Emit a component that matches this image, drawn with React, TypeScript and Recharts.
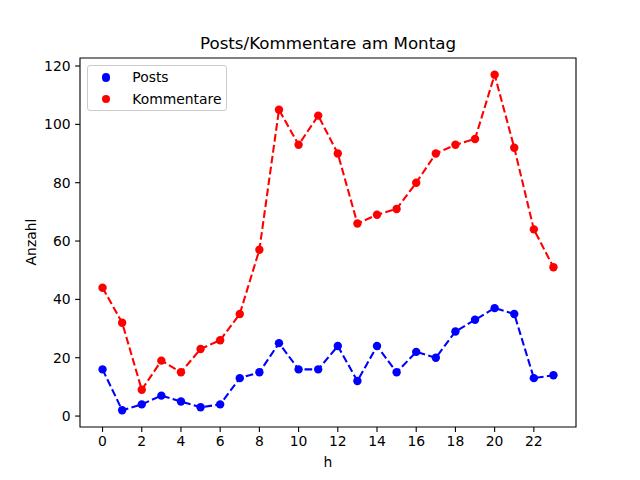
import { LineChart, Line, XAxis, YAxis, ReferenceArea, Legend } from 'recharts';

const HOURS = [0, 1, 2, 3, 4, 5, 6, 7, 8, 9, 10, 11, 12, 13, 14, 15, 16, 17, 18, 19, 20, 21, 22, 23];
const POSTS = [16, 2, 4, 7, 5, 3, 4, 13, 15, 25, 16, 16, 24, 12, 24, 15, 22, 20, 29, 33, 37, 35, 13, 14];
const KOMMENTARE = [44, 32, 9, 19, 15, 23, 26, 35, 57, 105, 93, 103, 90, 66, 69, 71, 80, 90, 93, 95, 117, 92, 64, 51];
const X_TICKS = [0, 2, 4, 6, 8, 10, 12, 14, 16, 18, 20, 22];
const Y_TICKS = [0, 20, 40, 60, 80, 100, 120];

const FONT = 'DejaVu Sans, sans-serif';
const BLUE = '#0000ff';
const RED = '#ff0000';
const X_DOMAIN: [number, number] = [-1.15, 24.15];
const Y_DOMAIN: [number, number] = [-3.75, 122.75];

const data = HOURS.map((h, i) => ({ h, posts: POSTS[i], kommentare: KOMMENTARE[i] }));

const tickStyle = { fill: '#000', fontSize: 13.9, fontFamily: FONT };
const DASH = '7.7 3.3';

function LegendBox() {
  const rows = [
    { name: 'Posts', color: BLUE },
    { name: 'Kommentare', color: RED },
  ];
  return (
    <div
      style={{
        boxSizing: 'border-box',
        background: 'rgba(255,255,255,0.8)',
        border: '1px solid #cccccc',
        borderRadius: 3,
        padding: '0.5px 0 0 13.5px',
        fontFamily: FONT,
        fontSize: 13.9,
        width: 140,
        height: 45.5,
      }}
    >
      {rows.map((r) => (
        <div key={r.name} style={{ display: 'flex', alignItems: 'center', height: 21.7 }}>
          <span
            style={{
              flexShrink: 0,
              width: 8.6,
              height: 8.6,
              borderRadius: '50%',
              background: r.color,
              display: 'inline-block',
              marginRight: 22.2,
            }}
          />
          <span style={{ whiteSpace: 'nowrap' }}>{r.name}</span>
        </div>
      ))}
    </div>
  );
}

function YLabel() {
  return (
    <text
      x={31}
      y={242}
      transform="rotate(-90 31 242)"
      textAnchor="middle"
      dominantBaseline="central"
      fontFamily={FONT}
      fontSize={13.9}
      fill="#000"
    >
      Anzahl
    </text>
  );
}

export default function App() {
  return (
    <div style={{ position: 'relative', width: 640, height: 480, background: '#fff' }}>
      <style>{'body{margin:0}'}</style>
      <LineChart width={640} height={480} data={data} margin={{ top: 58, right: 64, left: 0, bottom: 0 }}>
        <text x={328} y={49} textAnchor="middle" fontFamily={FONT} fontSize={16.7} fill="#000">
          Posts/Kommentare am Montag
        </text>
        <XAxis
          dataKey="h"
          type="number"
          domain={X_DOMAIN}
          ticks={X_TICKS}
          height={53}
          tickSize={4.9}
          tickMargin={4.5}
          tick={tickStyle}
          axisLine={false}
          tickLine={{ stroke: '#000', strokeWidth: 1.1 }}
          allowDataOverflow
          label={{ value: 'h', position: 'insideBottom', offset: 13, fill: '#000', fontSize: 13.9, fontFamily: FONT }}
        />
        <YAxis
          type="number"
          domain={Y_DOMAIN}
          ticks={Y_TICKS}
          width={80}
          tickSize={4.9}
          tickMargin={4.5}
          tick={tickStyle}
          axisLine={false}
          tickLine={{ stroke: '#000', strokeWidth: 1.1 }}
          allowDataOverflow
          label={<YLabel />}
        />
        <ReferenceArea
          x1={X_DOMAIN[0]}
          x2={X_DOMAIN[1]}
          y1={Y_DOMAIN[0]}
          y2={Y_DOMAIN[1]}
          fill="none"
          fillOpacity={0}
          stroke="#000"
          strokeWidth={1.1}
        />
        <Legend
          layout="vertical"
          align="center"
          verticalAlign="middle"
          wrapperStyle={{ top: 65, left: 87, width: 140 }}
          content={() => <LegendBox />}
        />
        <Line
          dataKey="posts"
          name="Posts"
          stroke={BLUE}
          strokeWidth={2.08}
          strokeDasharray={DASH}
          dot={{ r: 4.2, fill: BLUE, stroke: BLUE, strokeWidth: 0, strokeDasharray: '' }}
          activeDot={false}
          isAnimationActive={false}
        />
        <Line
          dataKey="kommentare"
          name="Kommentare"
          stroke={RED}
          strokeWidth={2.08}
          strokeDasharray={DASH}
          dot={{ r: 4.2, fill: RED, stroke: RED, strokeWidth: 0, strokeDasharray: '' }}
          activeDot={false}
          isAnimationActive={false}
        />
      </LineChart>
    </div>
  );
}
